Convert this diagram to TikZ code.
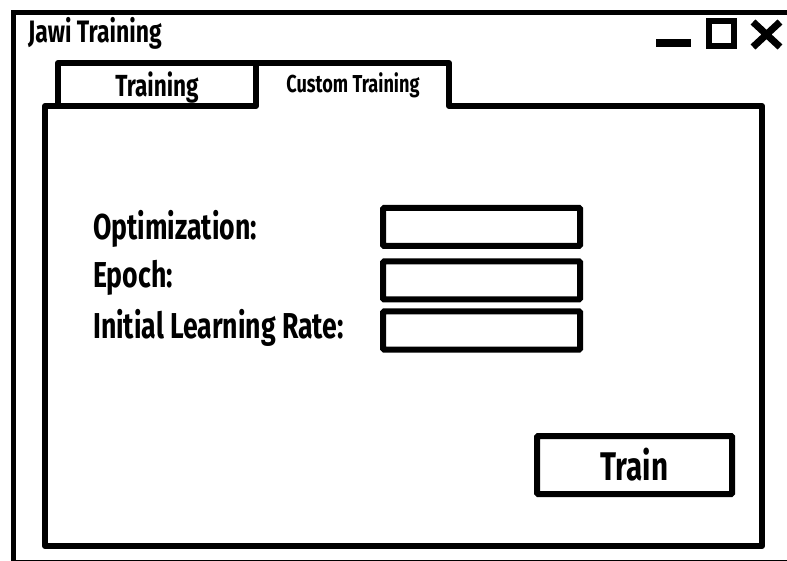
\documentclass[tikz,border=0pt]{standalone}
\usepackage{fontspec}
\setmainfont[FakeStretch=0.74]{Fira Sans}

\begin{document}
\begin{tikzpicture}[x=1pt, y=-1pt, font=\bfseries,
    frame/.style={line width=6pt, line join=round},
    field/.style={draw, line width=6pt, rounded corners=1pt, inner sep=0pt},
    fieldtext/.style={anchor=base west, font=\bfseries\fontsize{36}{36}\selectfont}]
    \useasboundingbox (0,0) rectangle (787,561);
    \clip (0,0) rectangle (787,561);

    % Window frame
    \draw[line width=5pt] (13,12.5) rectangle (830,562);
    \node[anchor=base west, inner sep=0pt, font=\bfseries\fontsize{31}{31}\selectfont] (title) at (28,43) {Jawi Training};

    % Window buttons
    \fill (656,39) rectangle (691,47);
    \draw[line width=6pt] (709,21) rectangle (734,46);
    \draw[line width=7pt] (753,22) -- (780,47) (780,22) -- (753,47);

    % Tabs and panel
    \draw[frame] (58,63) rectangle (256,106);
    \draw[frame] (256,63) -- (449,63) -- (449,106) -- (762,106) -- (762,546) -- (45,546) -- (45,106) -- (58,106);
    \node[anchor=base, inner sep=0pt, font=\bfseries\fontsize{30.5}{30.5}\selectfont] (tabTrain) at (157,97) {Training};
    \node[anchor=base, inner sep=0pt, font=\bfseries\fontsize{24.5}{24.5}\selectfont] (tabCustom) at (353,93) {Custom Training};

    % Fields
    \foreach \name/\txt/\y in {Opt/Optimization:/240, Epoch/Epoch:/288, Rate/Initial Learning Rate:/338} {
        \node[fieldtext, inner sep=0pt] (lbl\name) at (93,\y) {\txt};
    }
    \foreach \name/\y in {Opt/227, Epoch/280.5, Rate/330.5} {
        \node[field, minimum width=197pt, minimum height=38pt] (box\name) at (481.5,\y) {};
    }

    % Button
    \node[field, minimum width=195pt, minimum height=58pt, font=\bfseries\fontsize{40}{40}\selectfont] (btnTrain) at (634.5,465) {Train};
\end{tikzpicture}
\end{document}
